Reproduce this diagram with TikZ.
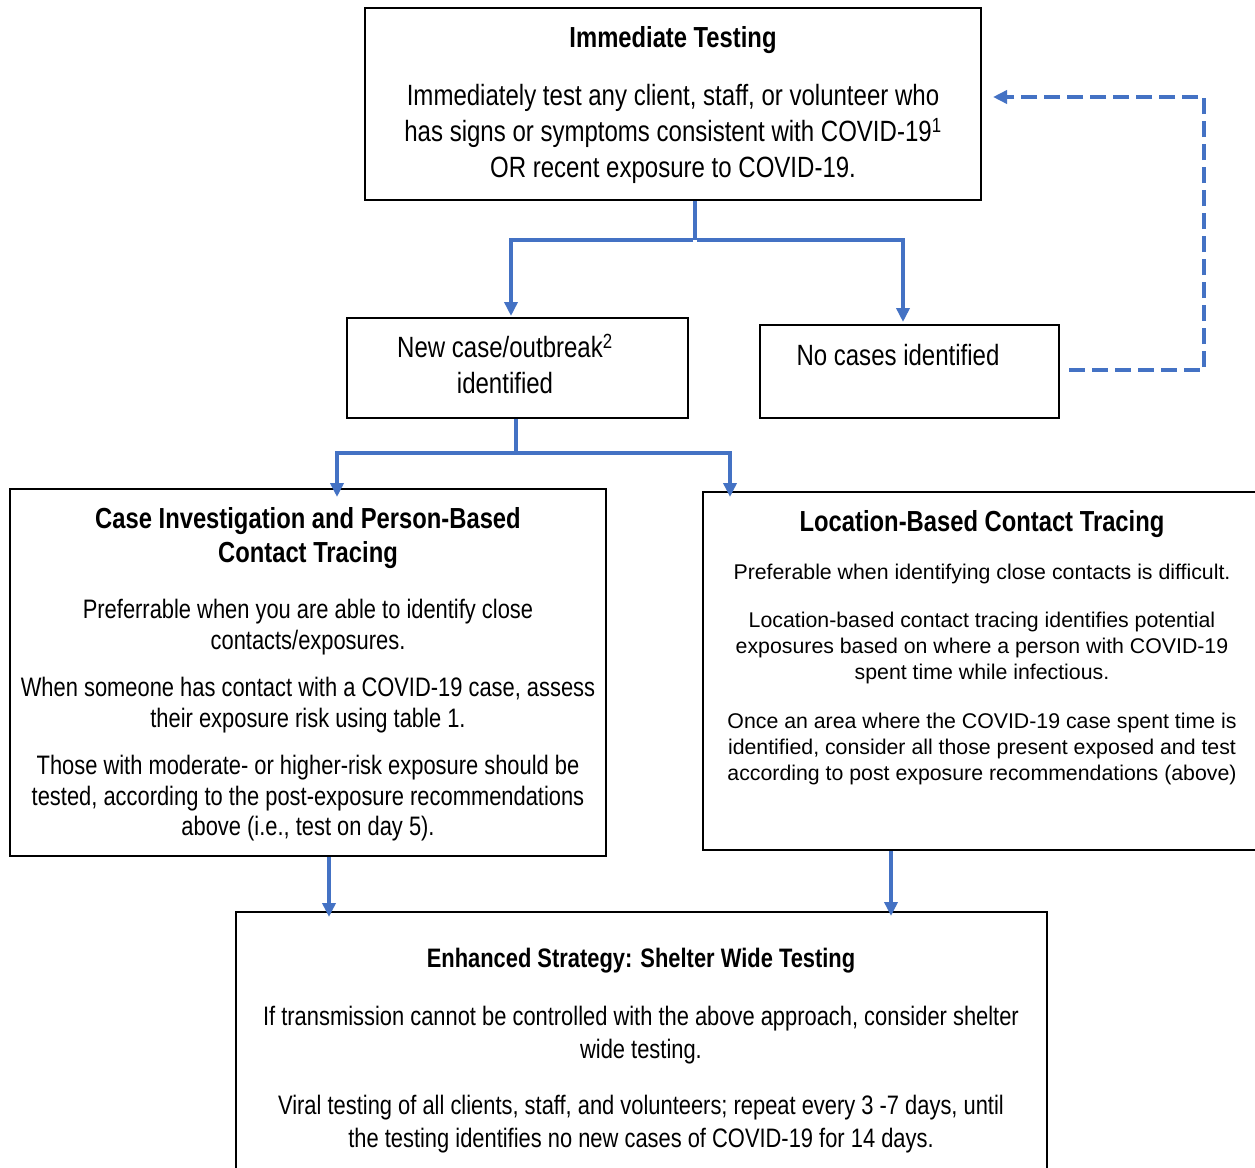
\documentclass[tikz,border=0pt]{standalone}
\usepackage{fontspec}
\setmainfont{Liberation Sans}
\newfontfamily\narrowfont[FakeStretch=0.82]{Liberation Sans}
\newfontfamily\arialfont{Liberation Sans}
\usetikzlibrary{arrows.meta}
\definecolor{cblue}{RGB}{68,114,196}
\tikzset{
  box/.style={draw=black, line width=2pt, inner sep=0pt, rectangle},
  ttl/.style={font=\narrowfont\bfseries\fontsize{29}{34}\selectfont, align=center, inner sep=0pt},
  bodyA/.style={font=\narrowfont\fontsize{29.3}{36}\selectfont, align=center, inner sep=0pt},
  bodyB/.style={font=\narrowfont\fontsize{26.7}{30.5}\selectfont, align=center, inner sep=0pt},
  bodyC/.style={font=\arialfont\fontsize{21.3}{26}\selectfont, align=center, inner sep=0pt},
  bodyD/.style={font=\narrowfont\fontsize{26.7}{33}\selectfont, align=center, inner sep=0pt},
  ttlD/.style={font=\narrowfont\bfseries\fontsize{26.7}{33}\selectfont, align=center, inner sep=0pt},
  conn/.style={draw=cblue, line width=4pt},
  arr/.style={draw=cblue, line width=4pt, -{Triangle[length=14pt,width=13pt]}},
  dsh/.style={draw=cblue, line width=4pt, dash pattern=on 16pt off 7pt, -{Triangle[length=14pt,width=13pt]}},
}
\begin{document}
\begin{tikzpicture}[x=1pt,y=-1pt]
\useasboundingbox (0,0) rectangle (1255,1167);
\clip (0,0) rectangle (1255,1167);
\fill[white] (0,0) rectangle (1255,1167);

% boxes
\node[box, minimum width=616pt, minimum height=192pt] (b1) at (673,104) {};
\node[box, minimum width=341pt, minimum height=100pt] (b2) at (517.5,368) {};
\node[box, minimum width=299pt, minimum height=93pt] (b3) at (909.5,371.5) {};
\node[box, minimum width=596pt, minimum height=367pt] (b4) at (308,672.5) {};
\node[box, minimum width=559pt, minimum height=358pt] (b5) at (982.5,671) {};
\node[box, minimum width=811pt, minimum height=268pt] (b6) at (641.5,1046) {};

% texts box 1
\node[ttl] (t1) at (673,40) {Immediate Testing};
\node[bodyA] (p1) at (673,134) {Immediately test any client, staff, or volunteer who\\has signs or symptoms consistent with COVID-19\textsuperscript{1}\\OR recent exposure to COVID-19.};

% box 2 and 3
\node[bodyA] (p2) at (505,364) {New case/outbreak\textsuperscript{2}\\identified};
\node[bodyA] (p3) at (898,355) {No cases identified};

% box 4
\node[ttl] (t4) at (308,538) {Case Investigation and Person-Based\\Contact Tracing};
\node[bodyB] (p4a) at (308,627) {Preferrable when you are able to identify close\\contacts/exposures.};
\node[bodyB] (p4b) at (308,705) {When someone has contact with a COVID-19 case, assess\\their exposure risk using table 1.};
\node[bodyB] (p4c) at (308,798.5) {Those with moderate- or higher-risk exposure should be\\tested, according to the post-exposure recommendations\\above (i.e., test on day 5).};

% box 5
\node[ttl] (t5) at (982,524) {Location-Based Contact Tracing};
\node[bodyC] (p5a) at (982,574) {Preferable when identifying close contacts is difficult.};
\node[bodyC] (p5b) at (982,648) {Location-based contact tracing identifies potential\\exposures based on where a person with COVID-19\\spent time while infectious.};
\node[bodyC] (p5c) at (982,748.5) {Once an area where the COVID-19 case spent time is\\identified, consider all those present exposed and test\\according to post exposure recommendations (above)};

% box 6
\node[ttlD] (t6) at (641,961) {Enhanced Strategy: Shelter Wide Testing};
\node[bodyD] (p6a) at (641,1035) {If transmission cannot be controlled with the above approach, consider shelter\\wide testing.};
\node[bodyD] (p6b) at (641,1124.5) {Viral testing of all clients, staff, and volunteers; repeat every 3 -7 days, until\\the testing identifies no new cases of COVID-19 for 14 days.};

% connectors level 1
\draw[conn] ([xshift=22pt]b1.south) -- ++(0,39) coordinate (j1);
\draw[arr] ([xshift=-2pt]j1) -| ([xshift=-6.5pt,yshift=1pt]b2.north);
\draw[arr] ([xshift=2pt]j1) -| ([xshift=-6.5pt,yshift=2pt]b3.north);

% dashed feedback
\draw[dsh] ([xshift=9pt,yshift=1.5pt]b3.east) -- ++(135,0) |- ([xshift=11pt,yshift=7pt]b1.east);

% connectors level 2
\draw[conn] ([xshift=-1.5pt]b2.south) -- ++(0,34) coordinate (j2);
\draw[arr] ([xshift=2pt]j2) -| ([xshift=29pt,yshift=-9pt]b4.north);
\draw[arr] ([xshift=-2pt]j2) -| ([xshift=-252.5pt,yshift=-6pt]b5.north);

% connectors to bottom
\draw[arr] ([xshift=21pt]b4.south) -- ([xshift=-312.5pt,yshift=-6pt]b6.north);
\draw[arr] ([xshift=-91.5pt]b5.south) -- ([xshift=249.5pt,yshift=-5pt]b6.north);
\end{tikzpicture}
\end{document}
